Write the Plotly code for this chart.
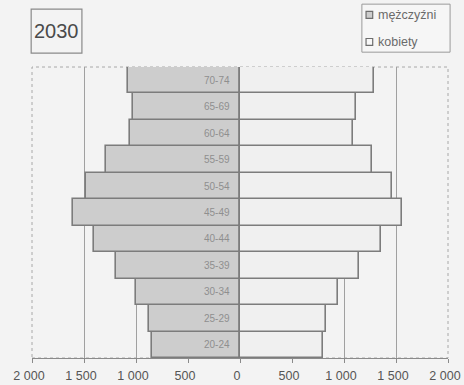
import plotly.graph_objects as go

# Population pyramid, 2030 (thousands)
age_groups = ["20-24", "25-29", "30-34", "35-39", "40-44", "45-49",
              "50-54", "55-59", "60-64", "65-69", "70-74"]
men = [846, 875, 1000, 1192, 1404, 1606, 1481, 1288, 1058, 1029, 1077]
women = [798, 827, 942, 1144, 1356, 1558, 1462, 1269, 1087, 1115, 1288]

tick_vals = [-2000, -1500, -1000, -500, 0, 500, 1000, 1500, 2000]
tick_text = ["2 000", "1 500", "1 000", "500", "0", "500", "1 000", "1 500", "2 000"]

title_text = "2030"
legend_labels = ["mężczyźni", "kobiety"]

BG = "#f3f3f3"
EDGE = "#7c7c7c"
MEN_FILL = "#cdcdcd"
WOMEN_FILL = "#f0f0f0"
FONT = "Liberation Sans, Arial, sans-serif"

fig = go.Figure()
fig.add_trace(go.Bar(
    y=age_groups, x=[-v for v in men], orientation="h",
    marker=dict(color=MEN_FILL, line=dict(color=EDGE, width=1.6)),
    name=legend_labels[0], showlegend=False,
))
fig.add_trace(go.Bar(
    y=age_groups, x=women, orientation="h",
    marker=dict(color=WOMEN_FILL, line=dict(color=EDGE, width=1.6)),
    name=legend_labels[1], showlegend=False,
))

# age-group labels inside the men's bars, next to the centre line
for g in age_groups:
    fig.add_annotation(x=0, y=g, xref="x", yref="y", text=g, showarrow=False,
                       xanchor="right", xshift=-8,
                       font=dict(family=FONT, size=10, color="#8f8f8f"))

# dotted frame round the plotting area
fig.add_shape(type="rect", xref="paper", yref="paper", x0=0, x1=1, y0=0, y1=1,
              line=dict(color="#a8a8a8", width=1, dash="dot"), layer="below")

# year box
fig.add_shape(type="rect", xref="paper", yref="paper",
              x0=-0.002, x1=0.12, y0=1.048, y1=1.199,
              line=dict(color="#8a8a8a", width=1.2), fillcolor="rgba(0,0,0,0)")
fig.add_annotation(xref="paper", yref="paper", x=0.059, y=1.124, text=title_text,
                   showarrow=False, xanchor="center", yanchor="middle",
                   font=dict(family=FONT, size=20, color="#4a4a4a"))

# legend box
fig.add_shape(type="rect", xref="paper", yref="paper",
              x0=0.793, x1=1.005, y0=1.051, y1=1.216,
              line=dict(color="#9a9a9a", width=1), fillcolor="#f6f6f6")
for i, (lab, fill) in enumerate(zip(legend_labels, [MEN_FILL, "#f8f8f8"])):
    yc = 1.179 - i * 0.093
    fig.add_shape(type="rect", xref="paper", yref="paper",
                  x0=0.803, x1=0.819, y0=yc - 0.012, y1=yc + 0.012,
                  line=dict(color="#6e6e6e", width=1.2), fillcolor=fill)
    fig.add_annotation(xref="paper", yref="paper", x=0.826, y=yc, text=lab,
                       showarrow=False, xanchor="left", yanchor="middle",
                       font=dict(family=FONT, size=12.5, color="#6a6a6a"))

fig.update_layout(
    width=464, height=385,
    margin=dict(l=32, r=16, t=67, b=27),
    paper_bgcolor=BG, plot_bgcolor=BG,
    barmode="overlay", bargap=0,
    showlegend=False,
    font=dict(family=FONT, color="#555555"),
    xaxis=dict(
        range=[-2000, 2000], tickvals=tick_vals, ticktext=tick_text,
        ticks="outside", ticklen=4, tickcolor="#8a8a8a",
        showline=True, linecolor="#8a8a8a", linewidth=1,
        showgrid=True, gridcolor="#a0a0a0", gridwidth=1,
        zeroline=True, zerolinecolor=EDGE, zerolinewidth=1.5,
        tickfont=dict(size=12.5, color="#555555"),
        ticklabelstandoff=2, ticklabelshift=-3,
        automargin=False,
        fixedrange=True,
    ),
    yaxis=dict(
        range=[-0.5, 10.5], showticklabels=False, showgrid=False,
        zeroline=False, ticks="", automargin=False, fixedrange=True,
    ),
)

fig.write_html("out.html")
